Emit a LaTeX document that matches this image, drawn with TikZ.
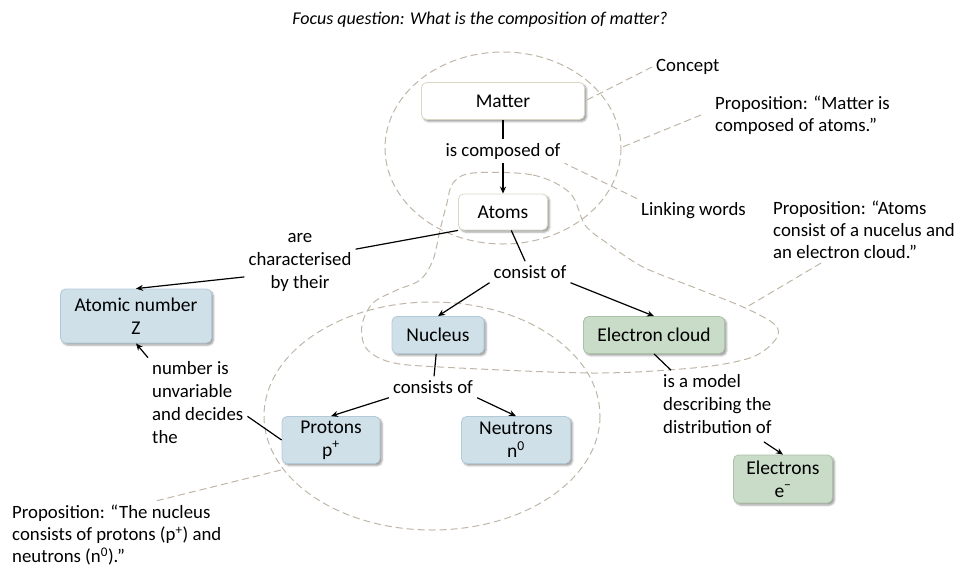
\documentclass[tikz,border=0pt]{standalone}
\usepackage{fontspec}
\setmainfont{Carlito}
\usetikzlibrary{arrows.meta,positioning,shadows.blur}
\definecolor{HintC}{RGB}{191,182,168}
\definecolor{BlueC}{RGB}{207,224,233}
\definecolor{BlueE}{RGB}{178,202,215}
\definecolor{SageC}{RGB}{201,220,200}
\definecolor{SageE}{RGB}{170,194,168}
\definecolor{PaperE}{RGB}{218,215,196}
\tikzset{
  concept/.style={rounded corners=5pt,line width=0.8pt,align=center,inner sep=2pt,
                  font=\fontsize{19.5}{23}\selectfont,
                  blur shadow={shadow xshift=2pt,shadow yshift=-2pt,
                               shadow blur steps=4,shadow opacity=40}},
  whitebox/.style={concept,fill=white,draw=PaperE},
  bluebox/.style={concept,fill=BlueC,draw=BlueE},
  greenbox/.style={concept,fill=SageC,draw=SageE},
  lword/.style={align=center,inner sep=4pt,font=\fontsize{18.8}{23}\selectfont},
  anno/.style={align=left,anchor=west,inner sep=4pt,font=\fontsize{18.8}{22}\selectfont},
  rel/.style={line width=1.2pt},
  relarr/.style={rel,-{Stealth[length=7pt,width=6pt]}},
  hint/.style={HintC,line width=1pt,dash pattern=on 7pt off 4pt},
}

\begin{document}
\begin{tikzpicture}[x=1pt,y=-1pt]
  \useasboundingbox (0,0) rectangle (960,568);
  \node[font=\fontsize{18}{22}\selectfont\itshape] (focus) at (480,20)
    {Focus question: What is the composition of matter?};

  % proposition outlines
  \draw[hint] (503,148) ellipse [x radius=118,y radius=96];
  \draw[hint] (432,416) ellipse [x radius=168,y radius=114];
  \draw[hint] plot[smooth cycle,tension=0.55] coordinates {
    (473,173) (533,175) (570,193) (585,225) (607,243) (643,267) (693,287)
    (743,307) (773,323) (778,335) (765,350) (743,360) (693,368) (593,373)
    (440,367) (390,362) (366,348) (362,325) (373,303) (397,290) (420,280)
    (433,260) (440,230) (447,203) (453,183)};

  % concepts and linking words
  \node[whitebox,minimum width=163pt,minimum height=37pt] (matter) at (503,101) {Matter};
  \node[lword] (composed) at (503,151) {is composed of};
  \node[whitebox,minimum width=89pt,minimum height=36pt] (atoms) at (503,212) {Atoms};
  \node[lword] (charac) at (300,262) {are\\characterised\\by their};
  \node[bluebox,minimum width=151pt,minimum height=54pt] (atnum) at (136,316) {Atomic number\\Z};
  \node[lword] (consist) at (530,272) {consist of};
  \node[bluebox,minimum width=92pt,minimum height=37pt] (nucleus) at (438,335) {Nucleus};
  \node[greenbox,minimum width=141pt,minimum height=37pt] (ecloud) at (654,335) {Electron cloud};
  \node[lword] (consists) at (433,387) {consists of};
  \node[bluebox,minimum width=98pt,minimum height=47pt] (protons) at (331,440) {Protons\\p\textsuperscript{+}};
  \node[bluebox,minimum width=109pt,minimum height=47pt] (neutrons) at (516,440) {Neutrons\\n\textsuperscript{0}};
  \node[lword,align=left,anchor=west] (unvar) at (148,403) {number is\\unvariable\\and decides\\the};
  \node[lword,align=left,anchor=west] (model) at (659,404) {is a model\\describing the\\distribution of};
  \node[greenbox,minimum width=99pt,minimum height=48pt] (electrons) at (783,479) {Electrons\\e\textsuperscript{−}};

  % annotations
  \node[anno] (concept) at (652,67) {Concept};
  \node[anno] (propmatter) at (711,115) {Proposition: “Matter is\\composed of atoms.”};
  \node[anno] (linking) at (637,211) {Linking words};
  \node[anno] (propatoms) at (769,230) {Proposition: “Atoms\\consist of a nucelus and\\an electron cloud.”};
  \node[anno] (propnuc) at (8,535) {Proposition: “The nucleus\\consists of protons (p\textsuperscript{+}) and\\neutrons (n\textsuperscript{0}).”};

  \draw[rel] (matter) -- (composed);
  \draw[relarr] (composed) -- (atoms);
  \draw[rel] (atoms.south west) -- (charac.13);
  \draw[relarr] (charac.195) -- (atnum.north);
  \draw[rel] (atoms) -- (consist);
  \draw[relarr] (consist.south west) -- (nucleus.north);
  \draw[relarr] (consist.south east) -- (ecloud.north);
  \draw[rel] (nucleus) -- (consists);
  \draw[relarr] (consists.south west) -- (protons.north);
  \draw[relarr] (consists.south east) -- (neutrons.north);
  \draw[relarr] (unvar.north west) -- (atnum.south);
  \draw[rel] (unvar.-15) -- (protons.west);
  \draw[rel] (ecloud.south) -- ([xshift=12pt]model.north west);
  \draw[relarr] ([xshift=-12pt,yshift=-4pt]model.south east) -- (electrons.north);

  \coordinate (bigrim) at (620,148);
  \coordinate (blobrim) at (745,308);
  \coordinate (nucrim) at (281,470);
  \draw[hint] (concept.west) -- (matter.east);
  \draw[hint] ([xshift=-10pt]propmatter.west) -- (bigrim);
  \draw[hint] (linking.north west) -- (composed.south east);
  \draw[hint] ([xshift=-43pt]propatoms.south) -- (blobrim);
  \draw[hint] ([xshift=40pt]propnuc.north) -- (nucrim);
\end{tikzpicture}
\end{document}
